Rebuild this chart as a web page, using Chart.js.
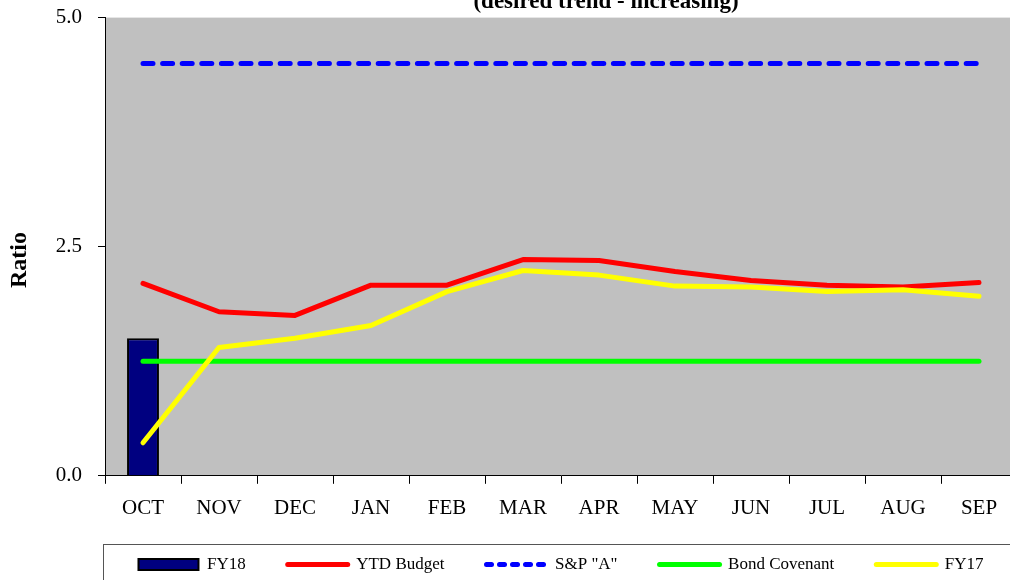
<!DOCTYPE html>
<html>
<head>
<meta charset="utf-8">
<script src="https://cdn.jsdelivr.net/npm/chart.js@4/dist/chart.umd.min.js"></script>
<style>
    html, body { margin: 0; padding: 0; background: #fff; overflow: hidden; }
    #wrap { position: relative; width: 1010px; height: 580px; overflow: hidden; }
    #ratioChart { position: absolute; left: 0; top: -11px; }
</style>
</head>
<body>
<div id="wrap"><canvas id="ratioChart" width="1022" height="598"></canvas></div>
<script>
const months = ["OCT", "NOV", "DEC", "JAN", "FEB", "MAR", "APR", "MAY", "JUN", "JUL", "AUG", "SEP"];
const fy18 = [1.5, null, null, null, null, null, null, null, null, null, null, null];
const ytdBudget = [2.10, 1.79, 1.75, 2.08, 2.08, 2.36, 2.35, 2.23, 2.13, 2.08, 2.06, 2.11];
const spA = [4.5, 4.5, 4.5, 4.5, 4.5, 4.5, 4.5, 4.5, 4.5, 4.5, 4.5, 4.5];
const bondCovenant = [1.25, 1.25, 1.25, 1.25, 1.25, 1.25, 1.25, 1.25, 1.25, 1.25, 1.25, 1.25];
const fy17 = [0.36, 1.40, 1.50, 1.64, 2.01, 2.24, 2.19, 2.07, 2.06, 2.01, 2.03, 1.96];
const yTicks = [0, 2.5, 5];

const serif = "'Liberation Serif', 'DejaVu Serif', serif";

// grey plot background, title (only its last line shows at the top edge),
// "Ratio" axis label, legend frame; legend moved to sit under the plot
const extras = {
    id: "extras",
    afterLayout(chart) {
        const lg = chart.legend;
        const shift = (chart.chartArea.left + chart.chartArea.right) / 2 - (lg.left + lg.right) / 2;
        lg.left += shift;
        lg.right += shift;
    },
    beforeDraw(chart) {
        const { ctx, chartArea } = chart;
        ctx.save();
        ctx.fillStyle = "#c0c0c0";
        ctx.fillRect(chartArea.left, chartArea.top, chartArea.right - chartArea.left, chartArea.bottom - chartArea.top);
        ctx.restore();
    },
    afterDraw(chart) {
        const { ctx } = chart;
        ctx.save();
        ctx.fillStyle = "#000";
        ctx.textAlign = "center";
        ctx.textBaseline = "alphabetic";
        ctx.font = "bold 23px " + serif;
        ctx.fillText("(desired trend - increasing)", 606, 19);

        ctx.save();
        ctx.translate(20, 271);
        ctx.rotate(-Math.PI / 2);
        ctx.textBaseline = "middle";
        ctx.font = "bold 24px " + serif;
        ctx.fillText("Ratio", 0, 0);
        ctx.restore();

        ctx.strokeStyle = "#555";
        ctx.lineWidth = 1;
        ctx.strokeRect(103.5, 555.5, 908, 60);
        ctx.restore();
    },
};

const line = (label, data, color, order, extra) =>
    Object.assign({
        type: "line",
        label: label,
        data: data,
        borderColor: color,
        backgroundColor: color,
        borderWidth: 5,
        borderCapStyle: "round",
        borderJoinStyle: "round",
        pointRadius: 0,
        pointStyle: "line",
        tension: 0,
        order: order,
    }, extra || {});

new Chart(document.getElementById("ratioChart"), {
    data: {
        labels: months,
        datasets: [
            {
                type: "bar",
                label: "FY18",
                data: fy18,
                backgroundColor: "#000080",
                borderColor: "#000",
                borderWidth: 2,
                barPercentage: 0.42,
                categoryPercentage: 1,
                pointStyle: "rect",
                order: 5,
            },
            line("YTD Budget", ytdBudget, "#ff0000", 2),
            line('S&P "A"', spA, "#0000ff", 4, { borderDash: [10, 9.6] }),
            line("Bond Covenant", bondCovenant, "#00ff00", 3),
            line("FY17", fy17, "#ffff00", 1),
        ],
    },
    options: {
        responsive: false,
        animation: false,
        layout: { padding: { top: 6, right: 5, bottom: 4, left: 0 } },
        plugins: {
            title: { display: false },
            tooltip: { enabled: false },
            legend: {
                position: "bottom",
                fullSize: true,
                labels: {
                    font: { family: serif, size: 17 },
                    color: "#000",
                    usePointStyle: true,
                    pointStyleWidth: 60,
                    boxHeight: 11,
                    padding: 42,
                    sort: (a, b) => a.datasetIndex - b.datasetIndex,
                    generateLabels(chart) {
                        const items = Chart.defaults.plugins.legend.labels.generateLabels(chart);
                        items.forEach((it) => {
                            const ds = chart.data.datasets[it.datasetIndex];
                            if (ds.type === "line") {
                                it.strokeStyle = ds.borderColor;
                                it.lineWidth = 5;
                                it.lineCap = "round";
                                it.lineDash = ds.borderDash ? [5, 8] : [];
                            } else {
                                it.lineWidth = 2;
                            }
                        });
                        return items;
                    },
                },
            },
        },
        scales: {
            x: {
                offset: true,
                afterFit(scale) {
                    scale.height -= 19;
                },
                grid: {
                    offset: true,
                    drawOnChartArea: false,
                    color: "#000",
                    tickLength: 8,
                },
                border: { display: true, color: "#000", width: 1 },
                ticks: {
                    color: "#000",
                    font: { family: serif, size: 21 },
                    padding: 12,
                    maxRotation: 0,
                },
            },
            y: {
                min: 0,
                max: 5,
                afterBuildTicks(scale) {
                    scale.ticks = yTicks.map((v) => ({ value: v }));
                },
                afterFit(scale) {
                    scale.width = 105;
                },
                grid: {
                    drawOnChartArea: false,
                    color: "#000",
                    tickLength: 7,
                },
                border: { display: true, color: "#000", width: 1 },
                ticks: {
                    color: "#000",
                    font: { family: serif, size: 21 },
                    padding: 16,
                    callback: (v) => Number(v).toFixed(1),
                },
            },
        },
    },
    plugins: [extras],
});
</script>
</body>
</html>
